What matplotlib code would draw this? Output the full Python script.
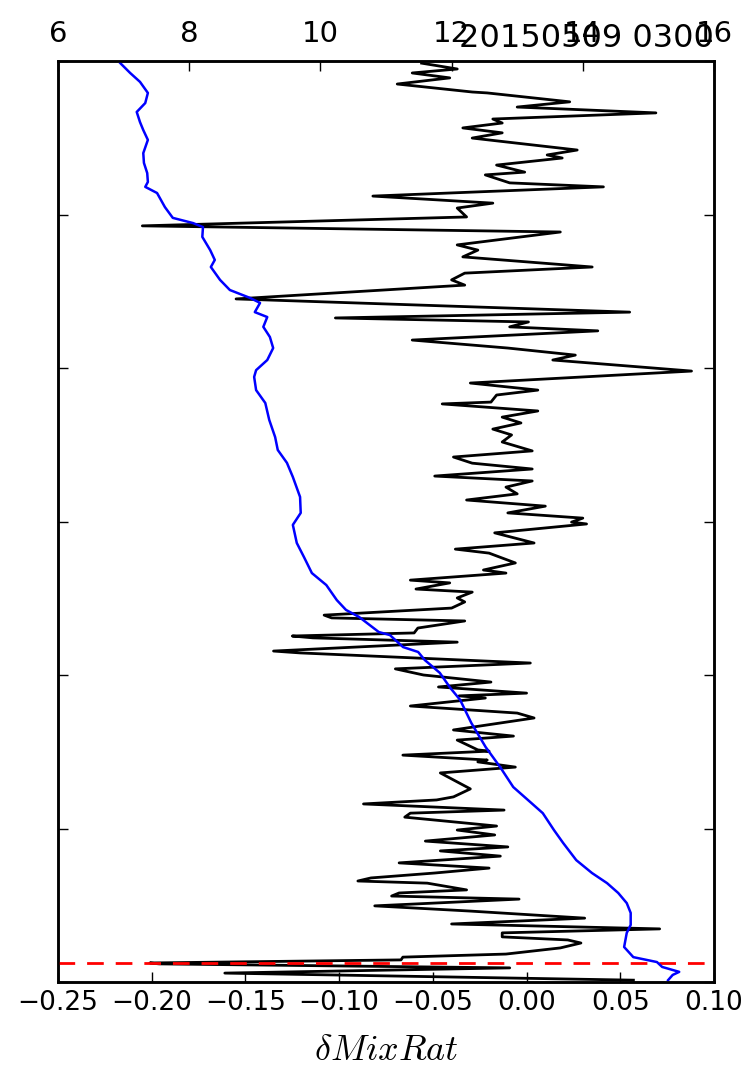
import matplotlib
matplotlib.use("Agg")
import matplotlib.pyplot as plt

# height (m) and delta mixing ratio, black profile (bottom axis)
dmix_z = [6, 29, 46, 59, 62, 72, 81, 91, 111, 127, 137, 147, 160, 173, 189, 208, 231,
          248, 270, 280, 290, 300, 322, 329, 339, 355, 371, 388, 410, 427, 440, 459,
          479, 495, 508, 537, 550, 560, 580, 593, 603, 629, 681, 700, 717, 723, 739,
          752, 756, 788, 801, 821, 860, 876, 899, 925, 932, 941, 961, 977, 1000, 1020,
          1039, 1072, 1078, 1107, 1121, 1127, 1137, 1153, 1176, 1186, 1195, 1218, 1238,
          1251, 1270, 1280, 1300, 1309, 1332, 1342, 1365, 1397, 1410, 1430, 1463, 1492,
          1498, 1511, 1528, 1550, 1570, 1590, 1612, 1632, 1648, 1671, 1690, 1710, 1730,
          1759, 1782, 1801, 1821, 1840, 1860, 1883, 1889, 1912, 1928, 1951, 1990, 2026,
          2042, 2065, 2091, 2121, 2134, 2150, 2163, 2182, 2225, 2270, 2287, 2309, 2329,
          2362, 2384, 2401, 2443, 2463, 2492, 2521, 2537, 2560, 2590, 2603, 2629, 2638,
          2661, 2684, 2694, 2710, 2749, 2766, 2782, 2798, 2811, 2831, 2850, 2867, 2896,
          2899, 2925, 2945, 2961, 2974, 2993]
dmix = [0.057, -0.161, -0.009, -0.196, -0.201, -0.067, -0.066, -0.011, 0.018, 0.029,
        0.022, -0.013, -0.013, 0.071, -0.040, 0.031, -0.030, -0.081, -0.004, -0.072,
        -0.068, -0.032, -0.053, -0.090, -0.083, -0.049, -0.020, -0.068, -0.014, -0.046,
        -0.010, -0.054, -0.017, -0.037, -0.016, -0.065, -0.062, -0.012, -0.087, -0.048,
        -0.039, -0.030, -0.046, -0.006, -0.026, -0.021, -0.066, -0.020, -0.026, -0.037,
        -0.007, -0.039, 0.004, -0.005, -0.062, -0.022, -0.036, -0.000, -0.047, -0.019,
        -0.055, -0.070, 0.002, -0.121, -0.135, -0.037, -0.114, -0.125, -0.060, -0.058,
        -0.033, -0.104, -0.108, -0.040, -0.033, -0.037, -0.029, -0.059, -0.041, -0.062,
        -0.011, -0.023, -0.006, -0.020, -0.038, 0.004, -0.017, 0.032, 0.024, 0.030,
        -0.010, 0.010, -0.032, -0.005, -0.011, 0.003, -0.049, 0.003, -0.029, -0.039,
        0.003, -0.013, -0.008, -0.018, -0.003, -0.013, 0.006, -0.045, -0.019, -0.016,
        0.006, -0.030, 0.088, 0.014, 0.026, -0.010, -0.061, 0.038, -0.009, 0.001,
        -0.102, 0.055, -0.155, -0.033, -0.040, -0.033, 0.035, -0.034, -0.026, -0.037,
        0.018, -0.205, -0.032, -0.037, -0.018, -0.082, 0.041, -0.009, -0.022, -0.001,
        -0.016, 0.019, 0.011, 0.027, -0.029, -0.013, -0.034, -0.013, -0.018, 0.069,
        -0.005, 0.023, -0.021, -0.029, -0.069, -0.041, -0.061, -0.037, -0.056]

# mixing ratio profile, blue (top axis)
mix_z = [6, 23, 33, 49, 65, 81, 114, 160, 186, 225, 257, 290, 322, 355, 397, 453, 495,
         550, 586, 635, 700, 765, 844, 919, 958, 1007, 1049, 1075, 1091, 1130, 1140,
         1189, 1212, 1244, 1293, 1332, 1384, 1430, 1489, 1528, 1580, 1645, 1691, 1733,
         1775, 1831, 1886, 1928, 1971, 1993, 2026, 2065, 2101, 2134, 2166, 2182, 2212,
         2228, 2254, 2287, 2329, 2352, 2384, 2427, 2459, 2472, 2489, 2524, 2570, 2590,
         2606, 2635, 2668, 2700, 2743, 2775, 2801, 2834, 2863, 2896, 2932, 2961, 2993]
mix = [15.30, 15.37, 15.47, 15.21, 15.13, 14.77, 14.63, 14.67, 14.73, 14.73, 14.67,
       14.54, 14.37, 14.14, 13.90, 13.70, 13.56, 13.39, 13.20, 12.94, 12.74, 12.52,
       12.30, 12.13, 11.98, 11.82, 11.59, 11.49, 11.26, 11.06, 10.89, 10.59, 10.39,
       10.25, 10.09, 9.87, 9.75, 9.64, 9.58, 9.70, 9.69, 9.58, 9.49, 9.35, 9.31, 9.22,
       9.16, 9.02, 8.99, 9.02, 9.19, 9.28, 9.23, 9.13, 9.19, 9.00, 9.08, 8.93, 8.62,
       8.47, 8.33, 8.39, 8.32, 8.20, 8.21, 8.06, 7.75, 7.63, 7.51, 7.33, 7.37, 7.36,
       7.31, 7.30, 7.37, 7.30, 7.25, 7.20, 7.33, 7.37, 7.25, 7.10, 6.95]

lcl_z = 62
title = "20150509 0300"

plt.rcParams["mathtext.fontset"] = "cm"

fig = plt.figure(figsize=(7.55, 10.72), dpi=100)
ax = fig.add_axes([58 / 755, 1 - 982 / 1072, 656 / 755, 921 / 1072])
ax.plot(dmix, dmix_z, color="black", lw=2.0)
ax.axhline(lcl_z, color="red", lw=2.0, ls=(0, (6, 4.3)), zorder=3)
ax.set_xlim(-0.25, 0.10)
ax.set_ylim(0, 3000)
ax.set_yticks(range(0, 3001, 500))
ax.set_yticklabels([])
ax.set_xticks([-0.25, -0.20, -0.15, -0.10, -0.05, 0.00, 0.05, 0.10])
ax.tick_params(axis="both", direction="in", length=7, width=1, labelsize=19)
ax.tick_params(axis="y", left=True, right=True)
ax.tick_params(axis="x", pad=6)
ax.set_xlabel(r"$\delta MixRat$", fontsize=26, labelpad=12)

ax2 = ax.twiny()
ax2.plot(mix, mix_z, color="blue", lw=1.8)
ax2.set_xlim(6, 16)
ax2.set_xticks([6, 8, 10, 12, 14, 16])
ax2.tick_params(axis="x", direction="in", length=7, width=1, labelsize=21, pad=9)
ax2.set_title(title, loc="right", fontsize=23, y=1.0, pad=10)

for a in (ax, ax2):
    for s in a.spines.values():
        s.set_linewidth(1.8)

fig.savefig("out.png", dpi=100)
